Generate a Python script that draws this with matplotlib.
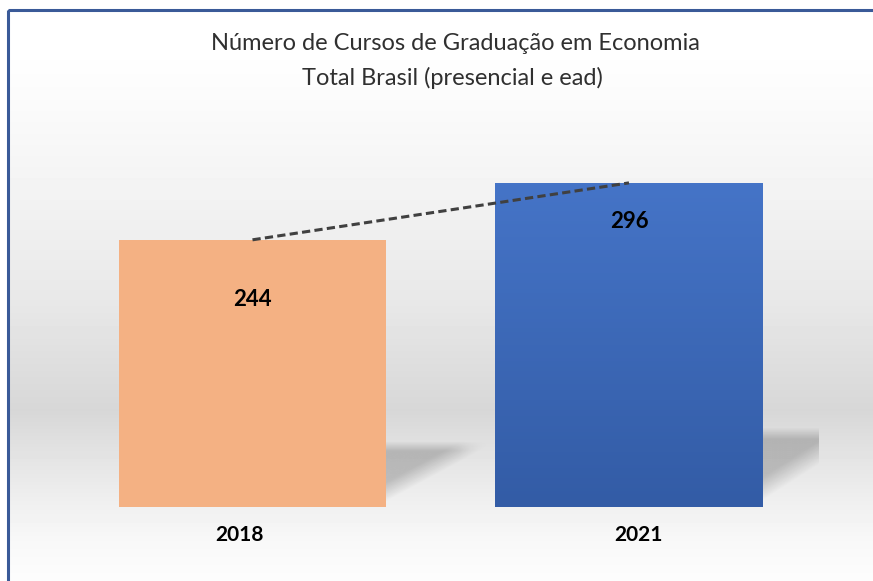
import numpy as np
import matplotlib.pyplot as plt
from matplotlib.colors import LinearSegmentedColormap
from matplotlib.patches import Rectangle
from matplotlib import transforms

plt.rcParams['font.family'] = ['Lato', 'DejaVu Sans']

# data
anos = ['2018', '2021']
cursos = [244, 296]
titulo = ['Número de Cursos de Graduação em Economia', 'Total Brasil (presencial e ead)']

# style
bar_width = 0.71
label_drop = [43, 28]        # value label distance below bar top (pt)
tick_shift = [-9, 7]         # small horizontal shift of the category labels (pt)

W, H = 873, 581
fig = plt.figure(figsize=(W / 100, H / 100), dpi=100)
fig.patch.set_facecolor('white')

# background gradient (whole chart area)
bg = fig.add_axes([0, 0, 1, 1], zorder=0)
stops_y = [0, 60, 100, 200, 300, 410, 450, 500, 540, 581]
stops_v = [255, 254, 251, 242, 232, 215, 226, 239, 248, 253]
yy = np.arange(H)
col = np.interp(yy, stops_y, stops_v) / 255.0
img = np.repeat(col[:, None], 10, axis=1)
bg.imshow(img, cmap='gray', vmin=0, vmax=1, aspect='auto', extent=[0, W, H, 0])
bg.set_xlim(0, W)
bg.set_ylim(H, 0)
bg.axis('off')
# white margin above / left of the frame and the blue frame
bg.add_patch(Rectangle((0, 0), W, 9, color='white', zorder=2))
bg.add_patch(Rectangle((0, 0), 7, H, color='white', zorder=2))
bg.add_patch(Rectangle((8, 10), W + 20, H + 20, fill=False, edgecolor='#3a5a98', lw=2.2, zorder=3))

# main axes: y=0 at px 507, 1.095 px per unit
ax = fig.add_axes([20 / W, (H - 507) / H, 798 / W, 407 / H], zorder=1)
ax.patch.set_alpha(0)
x = np.arange(len(anos))

# soft shadows on the right side of the bars
shade = np.zeros((120, 120, 4))
u = np.linspace(0, 1, 120)[None, :]
v = np.linspace(1, 0, 120)[:, None]
low = 0.08 + 0.92 * u
a = np.clip((v - low) / 0.3, 0, 1) * np.clip((1.0 - v) / 0.15, 0, 1) * np.clip((1 - u) / 0.35, 0, 1)
shade[..., 3] = 0.2 * a
for xi, val in zip(x, cursos):
    xr = xi + bar_width / 2
    ax.imshow(shade, extent=[xr, xr + 0.3, 0, val * 0.245], aspect='auto', zorder=1)

# bars
bars = ax.bar(x, cursos, width=bar_width, color=['#f4b183', '#4472c4'], zorder=2)
# blue bar gets a slight vertical gradient
grad = LinearSegmentedColormap.from_list('azul', ['#335ca6', '#4574c7'])
b = bars[1]
gi = ax.imshow(np.linspace(0, 1, 100)[:, None], cmap=grad, aspect='auto', origin='lower',
               extent=[b.get_x(), b.get_x() + b.get_width(), 0, b.get_height()], zorder=2)
gi.set_clip_path(b)
ax.set_xlim(-0.6175, 1.502)
ax.set_ylim(0, 407 / 1.095)

# dashed trend line between bar tops
ax.plot(x, cursos, color='#404040', lw=2.2, dashes=(2.7, 1.4), dash_capstyle='butt', zorder=3)

# value labels
for xi, val, d in zip(x, cursos, label_drop):
    ax.annotate(str(val), (xi, val), xytext=(0, -d), textcoords='offset points',
                ha='center', va='center', fontsize=16, fontweight='bold', color='black', zorder=4)

ax.set_xticks(x)
ax.set_xticklabels(anos, fontsize=15, fontweight='bold', color='black')
ax.tick_params(axis='x', length=0, pad=13)
for lbl, dx in zip(ax.get_xticklabels(), tick_shift):
    lbl.set_transform(lbl.get_transform() + transforms.ScaledTranslation(dx / 72, 0, fig.dpi_scale_trans))
ax.set_yticks([])
for s in ax.spines.values():
    s.set_visible(False)

fig.text(455 / W, 1 - 44 / H, titulo[0], ha='center', va='center', fontsize=17, color='#303030')
fig.text(452 / W, 1 - 78 / H, titulo[1], ha='center', va='center', fontsize=17, color='#303030')

fig.savefig('out.png', dpi=100)
